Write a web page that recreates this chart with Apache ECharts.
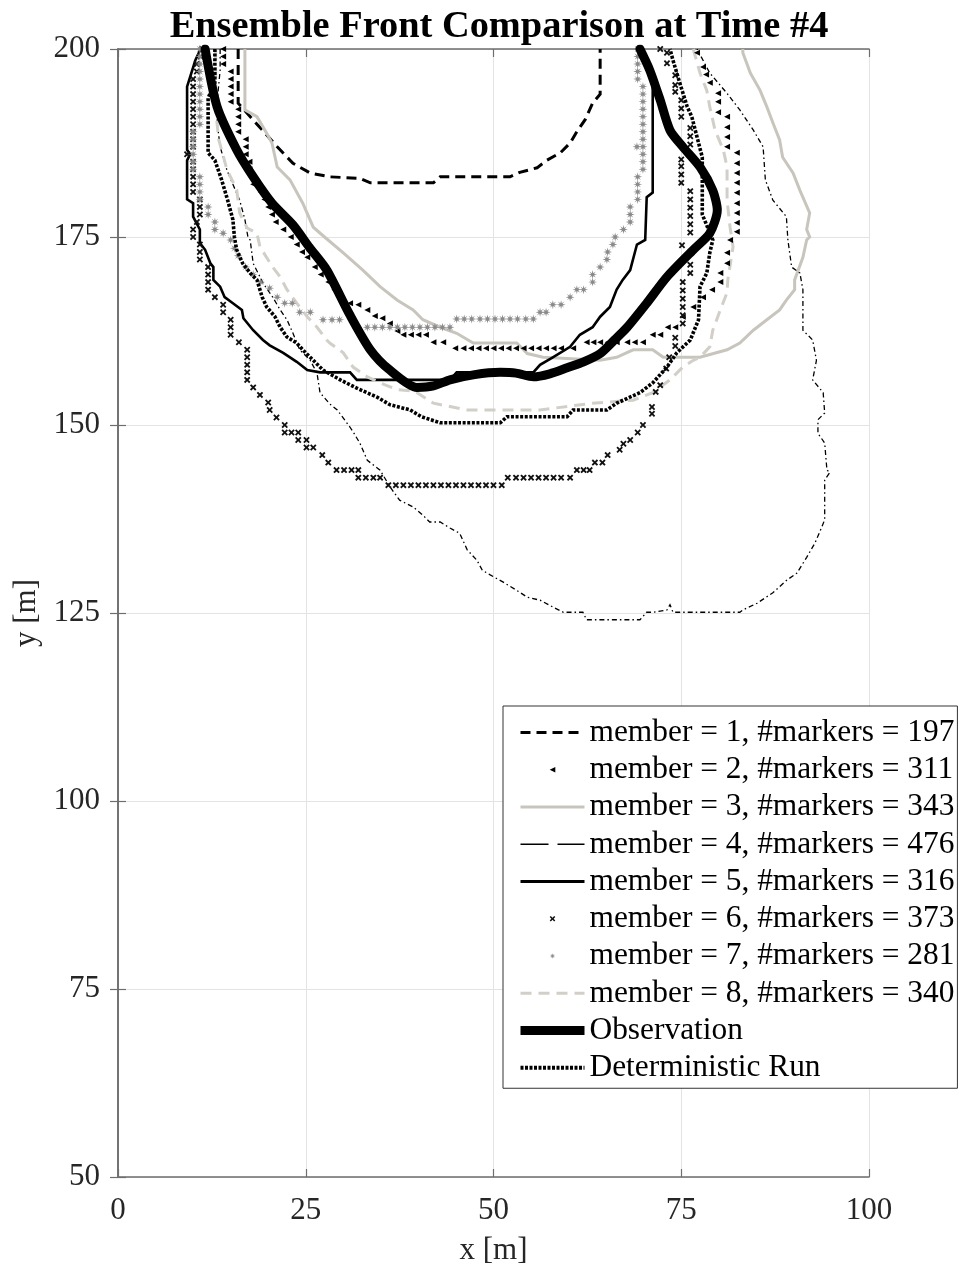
<!DOCTYPE html>
<html>
<head>
<meta charset="utf-8">
<title>Ensemble Front Comparison at Time #4</title>
<script src="https://cdn.jsdelivr.net/npm/echarts@6/dist/echarts.min.js"></script>
<style>
  html, body { margin: 0; padding: 0; background: #ffffff; }
  #chart { width: 963px; height: 1276px; }
</style>
</head>
<body>
<div id="chart"></div>
<script>
// Axis ticks (metres)
const xTicks = [0, 25, 50, 75, 100];
const yTicks = [50, 75, 100, 125, 150, 175, 200];

// Ensemble members and how many front markers each carries
const memberIds = [1, 2, 3, 4, 5, 6, 7, 8];
const markerCounts = [197, 311, 343, 476, 316, 373, 281, 340];

// Front contours, [x, y] in metres
const member1 = [[16,200],[16,192.8],[18.6,189.9],[21.2,187],[23.3,184.8],[25.6,183.5],[28.2,183],[32.2,182.8],[33.6,182.2],[42,182.2],[42.9,183],[52.2,183],[53.5,183.6],[55.8,184.2],[57.1,185.2],[58.9,186.2],[60.2,187.5],[61.1,189],[62.2,190.6],[63.2,192.8],[64.2,194],[64.2,200]];

const member2 = [[14,200],[14,199],[14,198],[15,197],[15,196],[15,195],[15,194],[15,193],[16,192],[16,191],[16,190],[16,189],[17,188],[17,187],[17,186],[17.5,185],[17.5,184],[18,183],[18,182],[19,181],[19.5,180],[20,179],[20.5,178],[21,177],[22,176],[23,175],[23.8,174],[24.5,173],[25.2,172.3],[26.2,171],[27,170],[28,169],[28.8,168],[29.6,167],[30.9,166.2],[32,166],[33.2,165.3],[34.2,164.5],[35.2,164.2],[36.2,163.5],[37.2,162.5],[38,162],[39,162],[40,162],[41,162],[42,161],[43.3,161],[44.9,160.2],[46,160.2],[47,160.2],[48,160.2],[49,160.2],[50,160.2],[51,160.2],[52,160.2],[53,160.2],[54,160.2],[55,160.2],[56,160.2],[57,160.2],[58,160.2],[59,160.2],[60.6,160.2],[62.4,161],[63.3,161],[64.2,161],[65.2,161],[66.4,161],[67.8,161],[68.8,161],[69.9,161],[71.2,162],[72.2,162],[73.2,163],[74.2,163],[75.2,164.4],[76.6,165.7],[77.9,167],[79.1,168],[80.2,169],[80.2,170.2],[81.1,171.5],[81.1,172.9],[81.5,174.6],[82.4,175.7],[82.4,176.9],[82.4,178.2],[82.4,179.5],[82.4,180.9],[82.4,182.2],[82.4,183.5],[82.4,184.8],[82.4,186.2],[81.1,187],[81.1,188.3],[81.1,189.6],[81.1,191],[79.9,191.6],[79.9,193],[79.9,194.1],[78.8,195.5],[78.3,196.6],[77.9,197.6],[77.1,199.5]];

const member3 = [[16.9,200],[16.9,191.9],[18.5,191],[19.8,188.8],[20.5,187.5],[21.2,184.3],[22.9,182.6],[24.6,179.5],[26,176.3],[27.5,175],[30,172.9],[32.6,170.6],[34.9,168.4],[37.2,166.6],[39.3,165.3],[40.6,164],[42.9,163],[45.1,162.2],[47.3,160.9],[53.1,160.9],[54.5,159.5],[56.6,159],[64.2,158.6],[66.4,159],[68.6,160],[71.2,160],[72.6,159],[77.5,159],[81.1,160],[82.8,160.9],[84.6,162.6],[86.4,164],[88.1,165.3],[89,166.6],[90.1,168],[90.1,169.3],[91.2,172.3],[91.7,174.6],[92.1,175],[91.7,176],[92.1,178.2],[90.8,181.2],[89.9,183.5],[88.5,185.6],[88.1,187.9],[87.2,190.2],[86.4,192.3],[85.5,194.5],[84.2,196.8],[83.2,199.5],[83.2,200]];

const member4 = [[13.6,200],[13.6,197.2],[13.2,193],[13.2,190.2],[13.6,187],[14.5,183.9],[15.3,182],[16.2,179.9],[16.9,177.3],[17.3,175],[17.6,174.6],[18,171.5],[19.3,168.9],[20.6,167],[21.6,165.3],[22.5,164],[23.3,162.2],[24.2,160],[25.6,158.6],[26.5,156.9],[26.9,154.3],[28.2,152.8],[29.2,152],[30.9,149.7],[31.3,149.1],[32.2,147.6],[33.2,145.3],[34.9,144],[36.2,141.8],[37.5,140],[39.3,139.1],[40.6,138],[41.5,137.1],[42.9,137.1],[44.2,136.3],[45.5,135.6],[46.5,133.4],[47.8,132],[48.5,130.7],[49.5,130.1],[51.3,129.1],[53.1,128],[54.5,127.1],[56.2,126.7],[57.9,125.8],[59.3,125.1],[61.9,125.1],[62.4,124.1],[69.5,124.1],[70.4,125.1],[71.2,125.1],[73.1,125.4],[73.5,126.1],[73.9,125.1],[82.8,125.1],[83.2,125.4],[85.1,126.3],[87.2,127.7],[89.1,129.4],[90.4,130.3],[91.7,132.4],[92.8,134.3],[93.7,136.4],[94.1,137.4],[94.1,142.7],[94.8,143.7],[94.4,144],[94.1,147.6],[93.2,148.9],[93.2,150.7],[94.1,151.6],[93.9,154.3],[92.5,156],[93,158.6],[92.5,161.3],[91.2,162.6],[91.2,168],[90.8,170.2],[89.7,171],[89.2,174.6],[89,177.7],[87.2,179.9],[86.2,182.6],[85.9,187],[84.6,189.2],[82.8,191.9],[81.1,194.1],[78.8,196.8],[77.1,200]];

const member5 = [[11,200],[10.3,198.5],[9.2,195],[9.2,186.6],[9.6,186],[9.2,185.2],[9.2,180],[10,179.5],[10,177.7],[10.9,176],[10.9,174.2],[11.6,173.3],[12.3,171.5],[12.7,171],[12.7,169.3],[13.6,168.4],[14.2,167],[15.3,166.2],[16.5,165.3],[16.7,164.2],[18,162.6],[19.3,161.3],[20.2,160.6],[22,159.6],[23.8,158.4],[25.2,157.3],[26.9,157],[30.9,157],[31.8,156],[44.2,156],[45.1,157],[55.3,157],[56.2,158],[57.9,159],[60.2,160.4],[61.5,162],[63.2,163],[64.2,164.4],[65.5,165.7],[66.4,168],[67.2,169.3],[68.2,170.6],[69.1,174],[70.2,174.6],[70.4,180.3],[71.2,180.9],[71.2,195.2],[70.2,198.5]];

const member6 = [[11.2,200],[11,199],[10.5,198],[10.5,197],[10,196],[10,195],[10,194],[10,193],[10,192],[10,191],[10,190],[10,189],[10,188],[10,187],[9.2,186],[10,185],[10,184],[10,183],[10,182],[10,181],[10.9,180],[10.9,179],[10.9,178],[10.5,177],[10,176],[10,175],[10.9,174],[10.9,173],[10.9,172],[12,171],[12,170],[12,169],[12,168],[12.9,167],[14,166],[14,165],[15,164],[15,163],[15,162],[16.1,161],[17.2,160],[17.2,159],[17.2,158],[17.2,157],[17.2,156],[18,155],[18.9,154],[20,153],[20.2,152],[21.1,151],[22.2,150],[22.2,149],[23.1,149],[24,149],[24,148],[25.1,148],[25.1,147],[26,147],[27.2,146],[28,145],[29.1,144],[30.1,144],[31.1,144],[32,144],[32,143],[33,143],[34,143],[34.9,143],[36,142],[37,142],[38,142],[39,142],[40,142],[41,142],[42,142],[43,142],[44,142],[45,142],[46,142],[47,142],[48,142],[49,142],[50,142],[51.1,142],[51.9,143],[53,143],[54,143],[55,143],[56,143],[57,143],[58,143],[59,143],[60.2,143],[61.1,144],[62,144],[62.8,144],[63.5,145],[64.5,145],[65.2,146],[66.8,146.7],[67.3,147.5],[68.2,148],[69.2,149],[69.9,150],[71.1,151.5],[71.1,152.4],[71.6,154.4],[72.2,155.3],[73,157.5],[73.4,159],[74.2,160.5],[74.2,161.6],[75.2,163.5],[75.2,164.6],[75.2,165.7],[75.2,166.8],[75.2,167.9],[75.2,169],[76.2,170.2],[76.2,171.3],[75.1,173.9],[76.2,175.6],[76.2,176.7],[76.2,177.8],[76.2,178.9],[76.2,180],[76.2,181.1],[75,182.2],[75,183.3],[75,184.4],[75,185.3],[76.2,187.3],[76.2,188.4],[76.2,189.5],[75,191],[75,192.1],[75,193.2],[74.2,194.3],[74.2,195.2],[74.2,196.5],[73.1,198.1],[73.1,199.5],[72.2,200]];

const member7 = [[10.9,200],[10.9,199],[10.9,198],[10.9,197],[10.9,196],[10.9,195],[10.9,194],[10.9,193],[10.9,192],[10.9,191],[10.9,190],[10,189],[10,188],[10,187],[10,186],[10,185],[10,184],[10.9,183],[10.9,182],[10.9,181],[10.9,180],[12,179],[12,178],[12.9,177],[12.9,176],[14,175.5],[15,174.6],[15.5,173.5],[16,172.5],[17,171],[18,170],[19,169],[20.2,168.2],[21.2,167],[22.2,166.2],[23.2,166.2],[24.2,165],[25.6,165],[27.3,164],[28.5,164],[29.5,164],[33.2,163],[34.2,163],[35.2,163],[36.2,163],[37.2,163],[38.2,163],[39.2,163],[40.2,163],[41.2,163],[42.2,163],[43.2,163],[44.2,163],[45.1,164.1],[46.1,164.1],[47.1,164.1],[48.2,164.1],[49.2,164.1],[50.2,164.1],[51.2,164.1],[52.2,164.1],[53.2,164.1],[54.3,164.1],[55.3,164.1],[56.2,165],[57,165],[57.9,166],[59,166],[60.2,167],[61.1,168],[62,168],[63.2,169],[63.2,170],[64.2,171],[65.1,172],[65.2,173],[65.9,174],[66.2,175],[67.3,176],[68.2,177],[68.2,178],[68.2,179],[69.2,180],[69.2,181],[69.2,182],[69.2,183],[69.9,184],[69.9,185],[69.9,186],[69.1,187],[69.9,187],[69.9,188],[69.9,189],[69.9,190],[69.9,191],[69.9,192],[69.9,193],[69.9,194],[69.9,195],[69.2,196],[69.2,197],[69.2,198],[69.2,199],[69.2,200]];

const member8 = [[13,200],[13,192],[13.4,188],[14.5,184],[15.8,181.3],[16.2,178.2],[17.2,176.2],[18.5,175.5],[18.9,173.7],[20.6,171],[21.6,169.7],[22.5,168],[23.8,166.2],[25.2,164.4],[26.5,163],[27.8,161.3],[28.2,160.9],[30,159.6],[31.3,157.7],[33.2,156.4],[34.9,155.6],[37.2,154.7],[39.5,154.5],[42,152.9],[46.5,152],[56.2,152],[63.2,152.9],[68.6,153.3],[71.2,154.3],[73.5,156],[75.2,157.7],[76.6,158.6],[77.5,159],[78.8,160.4],[79.2,162.6],[80.2,165.3],[81.1,167.6],[81.2,169.3],[81.9,173.7],[81.5,176.3],[81.1,179.9],[81.1,184.3],[80.6,186.6],[79.5,189.2],[78.8,192.3],[78.4,194.5],[77.5,196.8],[76.6,200]];

const observation = [[11.6,200],[13.2,192.3],[15.8,186.6],[18,183],[20.5,179.5],[23.3,176.6],[25.5,173.6],[27.8,170.6],[30.9,164.6],[33.6,160],[36.2,157.3],[39.8,155],[42,155.2],[44.2,156],[47.5,156.7],[50.9,157],[53,156.9],[55.3,156.4],[57.5,156.8],[59.8,157.6],[62,158.4],[64.2,159.5],[66,161.2],[67.8,163],[70.4,166.2],[73.1,169.7],[76.6,173.3],[78.8,175.5],[79.8,178.6],[79.2,181.2],[77.5,184.3],[75.2,187],[73.5,189.2],[72.2,193.2],[70.8,197.2],[69.5,200]];

const deterministic = [[12.9,200],[12.9,195.5],[12,193.5],[12,186.2],[12.9,185.2],[13.8,182.6],[14.6,179.9],[15.3,177.3],[15.5,175],[15.8,173.3],[16.6,171.5],[17.6,170.2],[18.5,169.3],[19.2,167],[19.8,165.7],[20.9,164.4],[21.6,163],[22.5,161.7],[23.8,160.9],[24.6,160],[26,158.6],[27.3,157.3],[29.6,156],[31.8,154.9],[34.5,153.7],[36.2,152.7],[38.9,152],[40.4,151.1],[42.9,150.3],[50.9,150.3],[51.8,151.1],[59.8,151.1],[60.6,152],[65.1,152],[66.4,152.9],[69.5,154.3],[71.2,155.6],[73.1,157.7],[74.4,159.6],[76.2,161.3],[77.3,164],[77.5,168.4],[78.4,170.2],[78.8,172.9],[79.2,174.6],[78.5,176.3],[77.8,178],[77.8,185.6],[77.1,188.3],[76.4,191],[75.8,192.3],[74.8,195.5],[73.9,198.5],[73.5,200]];

// Marker glyphs
const triLeft = 'path://M0,5L10,0L10,10Z';
const crossMark = 'path://M0,2L2,0L5,3L8,0L10,2L7,5L10,8L8,10L5,7L2,10L0,8L3,5Z';
const starMark = 'path://M10,5L6.6,5.8L8.54,8.54L5.8,6.6L5,10L4.2,6.6L1.46,8.54L3.4,5.8L0,5L3.4,4.2L1.46,1.46L4.2,3.4L5,0L5.8,3.4L8.54,1.46L6.6,4.2Z';

const FONT = 'Liberation Serif';
const memberNames = memberIds.map((m, i) => 'member = ' + m + ', #markers = ' + markerCounts[i]);

function lineSeries(name, data, style, extra) {
  return Object.assign({
    name: name, type: 'line', data: data, symbol: 'none',
    clip: true, animation: false, z: 2,
    itemStyle: { color: style.color },
    lineStyle: Object.assign({ join: 'miter', cap: 'butt' }, style)
  }, extra || {});
}
function markerSeries(name, data, symbol, size, color) {
  return {
    name: name, type: 'line', data: data, symbol: symbol, symbolSize: size,
    showSymbol: true, showAllSymbol: true, clip: true, animation: false, z: 3,
    itemStyle: { color: color, borderWidth: 0 },
    lineStyle: { width: 1, opacity: 0, color: color }
  };
}

const series = [
  lineSeries(memberNames[0], member1, { color: '#000000', width: 3, type: [10, 6] }),
  markerSeries(memberNames[1], member2, triLeft, 6, '#000000'),
  lineSeries(memberNames[2], member3, { color: '#c8c5bd', width: 3 }),
  lineSeries(memberNames[3], member4, { color: '#000000', width: 1.3, type: [5, 3, 1.5, 3] }),
  lineSeries(memberNames[4], member5, { color: '#000000', width: 2.6 }),
  markerSeries(memberNames[5], member6, crossMark, 6.5, '#111111'),
  markerSeries(memberNames[6], member7, starMark, 9, '#8a8a8a'),
  lineSeries(memberNames[7], member8, { color: '#d2cfc8', width: 3, type: [11, 7] }),
  lineSeries('Observation', observation, { color: '#000000', width: 9, join: 'round', cap: 'round' }, { smooth: 0.25, z: 4 }),
  lineSeries('Deterministic Run', deterministic, { color: '#000000', width: 3.6, type: [3, 1.6] }, { z: 4 })
];

// Legend entries: line samples keep each series' own stroke, no centre dot
const hideDot = { opacity: 0 };
const legendData = [
  { name: memberNames[0], itemStyle: hideDot, lineStyle: { width: 3, type: [10, 6] } },
  { name: memberNames[1], lineStyle: { width: 1, opacity: 0 } },
  { name: memberNames[2], itemStyle: hideDot, lineStyle: { width: 3 } },
  { name: memberNames[3], itemStyle: hideDot, lineStyle: { width: 1.5, type: [28, 9] } },
  { name: memberNames[4], itemStyle: hideDot, lineStyle: { width: 3 } },
  { name: memberNames[5], lineStyle: { width: 1, opacity: 0 } },
  { name: memberNames[6], lineStyle: { width: 1, opacity: 0 } },
  { name: memberNames[7], itemStyle: hideDot, lineStyle: { width: 3, type: [11, 7] } },
  { name: 'Observation', itemStyle: hideDot, lineStyle: { width: 9, cap: 'butt' } },
  { name: 'Deterministic Run', itemStyle: hideDot, lineStyle: { width: 4, type: [3, 1.5] } }
];

const axisFont = { fontFamily: FONT, fontSize: 31, color: '#262626' };
const boxLine = { show: true, lineStyle: { color: '#6e6e6e', width: 1.6 } };
const tickIn = { show: true, inside: true, length: 8, lineStyle: { color: '#6e6e6e', width: 1.2 } };

const xMin = xTicks[0], xMax = xTicks[xTicks.length - 1], xStep = xTicks[1] - xTicks[0];
const yMin = yTicks[0], yMax = yTicks[yTicks.length - 1], yStep = yTicks[1] - yTicks[0];

const LEGEND_FONT = 31.4;

const option = {
  backgroundColor: '#ffffff',
  animation: false,
  title: {
    text: 'Ensemble Front Comparison at Time #4',
    left: 494, top: 3, textAlign: 'center',
    textStyle: { fontFamily: FONT, fontSize: 38.4, fontWeight: 'bold', color: '#000000' }
  },
  grid: { left: 118, top: 49, width: 751, height: 1128, containLabel: false },
  xAxis: [
    {
      type: 'value', min: xMin, max: xMax, interval: xStep, position: 'bottom',
      name: 'x [m]', nameLocation: 'middle', nameGap: 58,
      nameTextStyle: axisFont,
      axisLine: boxLine, axisTick: tickIn,
      axisLabel: Object.assign({ margin: 18 }, axisFont),
      splitLine: { show: true, lineStyle: { color: '#e3e3e3', width: 1 } }
    },
    {
      type: 'value', min: xMin, max: xMax, interval: xStep, position: 'top',
      axisLine: boxLine, axisTick: tickIn, axisLabel: { show: false }, splitLine: { show: false }
    }
  ],
  yAxis: [
    {
      type: 'value', min: yMin, max: yMax, interval: yStep, position: 'left',
      name: 'y [m]', nameLocation: 'middle', nameGap: 68,
      nameTextStyle: axisFont,
      axisLine: boxLine, axisTick: tickIn,
      axisLabel: Object.assign({ margin: 18 }, axisFont),
      splitLine: { show: true, lineStyle: { color: '#e3e3e3', width: 1 } }
    },
    {
      type: 'value', min: yMin, max: yMax, interval: yStep, position: 'right',
      axisLine: boxLine, axisTick: tickIn, axisLabel: { show: false }, splitLine: { show: false }
    }
  ],
  legend: {
    orient: 'vertical', left: 503, top: 706,
    itemWidth: 64, itemHeight: 7, itemGap: 37.65 - LEGEND_FONT,
    padding: [11, 3, 5, 13],
    backgroundColor: '#ffffff', borderColor: '#333333', borderWidth: 1,
    selectedMode: false,
    textStyle: { fontFamily: FONT, fontSize: LEGEND_FONT, color: '#000000' },
    data: legendData
  },
  series: series
};

const chart = echarts.init(document.getElementById('chart'), null, { renderer: 'canvas' });
chart.setOption(option);
</script>
</body>
</html>
